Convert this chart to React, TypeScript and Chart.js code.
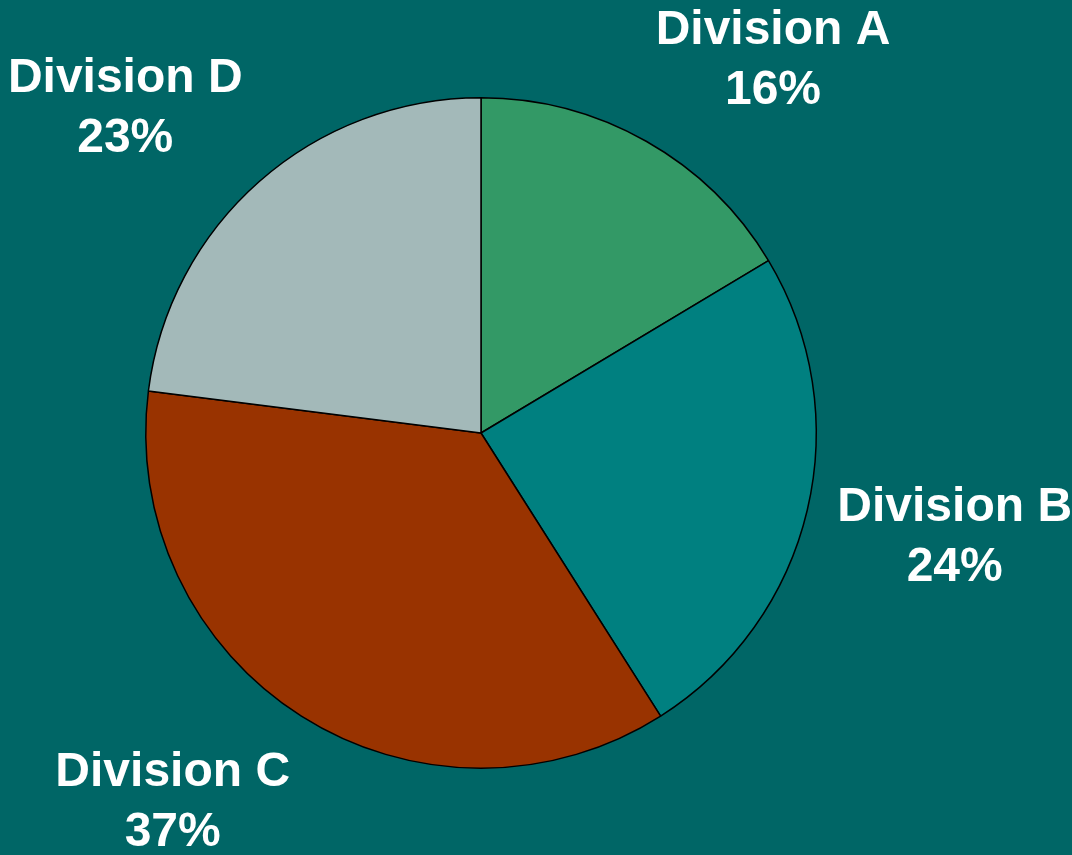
import React, { useEffect, useRef } from "react";
import { Chart, registerables } from "chart.js";

Chart.register(...registerables);

const categories = ["Division A", "Division B", "Division C", "Division D"];
const shares = [16.4, 24.6, 36.0, 23.0];
const shareLabels = ["16%", "24%", "37%", "23%"];
const sliceColors = ["#339966", "#008080", "#993300", "#A3B9B9"];

const BG = "#006666";
const FONT = 'bold 48px "Liberation Sans", Arial, sans-serif';

const outsideLabels = {
  id: "outsideLabels",
  afterDatasetsDraw(chart: any) {
    const ctx = chart.ctx;
    const meta = chart.getDatasetMeta(0);
    ctx.save();
    ctx.font = FONT;
    ctx.fillStyle = "#ffffff";
    ctx.textAlign = "center";
    ctx.textBaseline = "alphabetic";
    const clamp = (v: number) => Math.max(-1, Math.min(1, v));
    meta.data.forEach((arc: any, i: number) => {
      const { x, y, startAngle, endAngle, outerRadius } = arc.getProps(
        ["x", "y", "startAngle", "endAngle", "outerRadius"],
        true
      );
      const mid = (startAngle + endAngle) / 2;
      const dx = Math.cos(mid);
      const dy = Math.sin(mid);
      const dist = outerRadius + 43;
      const l1 = categories[i];
      const l2 = shareLabels[i];
      const w = Math.max(ctx.measureText(l1).width, ctx.measureText(l2).width);
      const capH = 34;
      const lineGap = 60;
      const h = capH + lineGap;
      const cx = x + dist * dx + 0.9 * (w / 2) * clamp(3 * dx);
      const cy = y + dist * dy + (h / 2) * clamp(1.25 * dy);
      const b1 = cy - h / 2 + capH;
      ctx.fillText(l1, cx, b1);
      ctx.fillText(l2, cx, b1 + lineGap);
    });
    ctx.restore();
  },
};

export default function App() {
  const ref = useRef<HTMLCanvasElement | null>(null);
  useEffect(() => {
    document.body.style.margin = "0";
    const chart = new Chart(ref.current as HTMLCanvasElement, {
      type: "pie",
      data: {
        labels: categories,
        datasets: [
          {
            data: shares,
            backgroundColor: sliceColors,
            borderColor: "#000000",
            borderWidth: 1.5,
            hoverOffset: 0,
          },
        ],
      },
      options: {
        animation: false,
        responsive: false,
        maintainAspectRatio: false,
        layout: { padding: { left: 145, right: 255, top: 96, bottom: 85 } },
        plugins: {
          legend: { display: false },
          tooltip: { enabled: false },
          title: { display: false },
        },
      },
      plugins: [outsideLabels],
    });
    return () => chart.destroy();
  }, []);
  return (
    <div
      style={{
        position: "absolute",
        left: 0,
        top: 0,
        width: 1072,
        height: 855,
        background: BG,
      }}
    >
      <canvas ref={ref} width={1072} height={855} />
    </div>
  );
}
